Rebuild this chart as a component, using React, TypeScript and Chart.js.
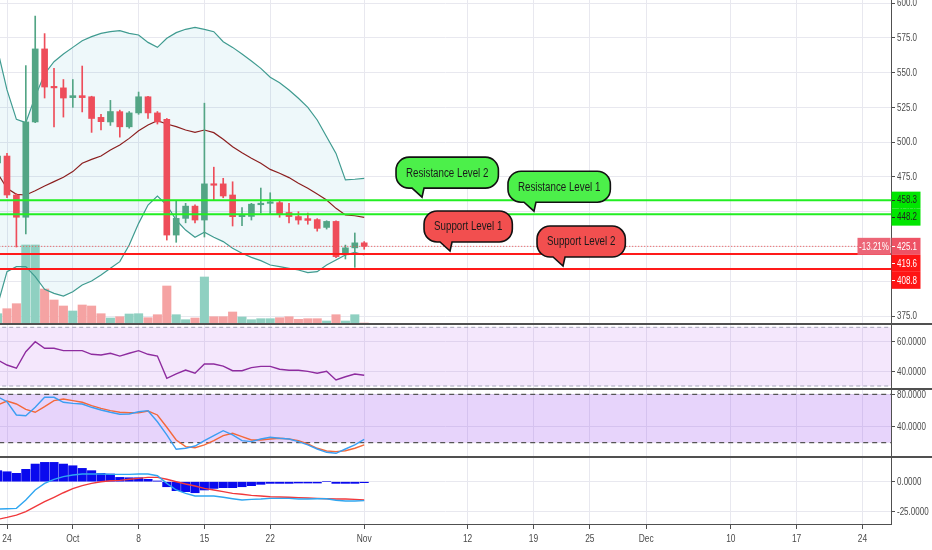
import React, { useEffect, useRef } from 'react';
import { Chart, registerables } from 'chart.js';

Chart.register(...registerables);

// The reference uses a narrow face; we squeeze Liberation Sans horizontally instead.
const FONT = "'Liberation Sans', Arial, sans-serif";
const AXIS_SQUEEZE = 0.8;
const AXIS_TEXT = '#4a4a4a';
const GRID = '#e8e8ef';
const FRAME = '#505050';
const UP = '#53a585';
const DOWN = '#ee4d5a';

Chart.defaults.font.family = FONT;

// x is a day number, 0 = Sep 24. First candle is Sep 23, last is Nov 1.
const firstDay = -1;
const xMin = -0.745;
const xMax = 94.04;
const dateTicks = [0, 7, 14, 21, 28, 38, 49, 56, 62, 68, 77, 84, 91];
const dateLabels = ['24', 'Oct', '8', '15', '22', 'Nov', '12', '19', '25', 'Dec', '10', '17', '24'];

const openPrice = [485, 490, 462, 446, 514.5, 567, 539.6, 539, 532, 533.4, 532.6, 517.8, 514.5, 521.9, 511, 521, 532.6, 521, 516.4, 433.2, 445.2, 454, 444, 470, 470, 462, 446.4, 446.6, 455, 456, 456.5, 449.4, 446.5, 445, 444.3, 438.7, 443, 419, 424, 427.6];
const highPrice = [492, 492, 463, 555, 590.6, 578, 553, 545, 545, 554.7, 533, 520, 530, 523, 522, 536, 533, 522, 517, 458, 456, 455, 528, 482, 474, 471.5, 453, 456, 467, 463.6, 458, 456, 450, 449, 445, 443.5, 443.5, 426, 434.7, 428.5];
const lowPrice = [480, 460, 424.6, 434, 514, 531.7, 511, 518, 525, 521.7, 507, 508.7, 512, 503.6, 510, 520, 517, 513, 429.6, 428, 442, 442, 431.8, 458, 460, 439.7, 440, 444, 449, 448, 446, 442, 441, 441, 436, 437.5, 417, 416, 410, 423];
const closePrice = [490, 462, 446, 514.5, 567, 539.6, 539, 531.7, 533.4, 532, 517, 514.7, 522, 511, 521, 532.6, 521, 514.5, 433.2, 445.2, 454, 444, 470, 469, 461.3, 446.4, 446.6, 455.4, 456, 456.5, 448.5, 446.5, 444, 443.7, 438, 443, 417.7, 424, 427.6, 425.1];
const volume = [10300, 15300, 20300, 79000, 79000, 35000, 24000, 18000, 13000, 19000, 18000, 10300, 6000, 7300, 10000, 10300, 6300, 9300, 38000, 9300, 4300, 6000, 47000, 7300, 7300, 12000, 7000, 4300, 5300, 5300, 6300, 7300, 4700, 5300, 5300, 3000, 9300, 3000, 9300, 1000];

const bbUpper = [566.2, 537.5, 516.4, 514.0, 532.7, 549.0, 557.8, 563.3, 568.1, 572.9, 575.8, 578.2, 579.4, 580.1, 578.2, 577.0, 571.7, 568.1, 574.6, 578.7, 581.1, 582.5, 581.1, 579.4, 572.2, 568.1, 563.3, 558.3, 553.0, 546.6, 542.7, 537.5, 531.5, 525.0, 515.9, 503.9, 491.9, 472.8, 473.3, 474.0];
const bbBasis = [477.6, 466.8, 462.5, 462.0, 465.1, 468.5, 471.6, 474.7, 478.8, 484.8, 487.6, 490.0, 494.3, 497.9, 502.7, 508.2, 512.3, 515.4, 513.0, 511.1, 508.7, 507.0, 508.7, 506.8, 502.0, 496.7, 492.4, 488.4, 484.8, 480.4, 477.6, 474.5, 470.4, 466.8, 462.7, 458.4, 452.4, 447.6, 447.1, 445.9];
const bbLower = [382.9, 406.9, 410.5, 410.5, 403.3, 394.2, 391.3, 389.4, 392.5, 397.3, 400.2, 404.5, 409.3, 414.1, 426.1, 441.6, 454.8, 461.3, 454.8, 444.0, 436.8, 431.6, 435.2, 431.6, 428.5, 423.7, 420.1, 417.2, 414.8, 411.7, 410.5, 409.3, 408.1, 406.2, 406.9, 411.7, 415.3, 418.9, 420.8, 418.9];

const rsi = [47.7, 44.3, 42.1, 53.4, 60.2, 55.7, 55.7, 54.1, 54.1, 54.1, 51.6, 51.1, 52.3, 50.4, 52.3, 54.1, 51.6, 50.4, 35.2, 38.2, 40.9, 38.7, 45.0, 45.0, 43.6, 40.4, 40.4, 42.5, 43.4, 43.4, 41.4, 40.7, 40.7, 40.0, 38.7, 40.0, 34.1, 36.3, 38.2, 37.3];
const stochK = [77.0, 70.8, 54.4, 53.5, 63.9, 76.3, 76.3, 70.1, 68.8, 68.0, 63.9, 60.5, 57.7, 55.2, 55.6, 58.4, 59.7, 46.0, 29.6, 11.8, 13.1, 15.9, 22.5, 28.7, 34.9, 29.6, 22.5, 21.3, 24.6, 26.7, 25.5, 24.6, 21.3, 17.2, 12.2, 8.1, 6.9, 12.2, 17.2, 24.2];
const stochD = [66.7, 71.7, 68.0, 61.4, 57.7, 64.7, 72.1, 74.2, 72.1, 70.1, 65.9, 62.6, 59.7, 57.7, 57.2, 57.2, 59.3, 54.4, 39.1, 23.4, 15.1, 13.8, 17.2, 22.5, 28.7, 31.7, 27.5, 23.4, 23.4, 24.6, 25.5, 24.6, 22.5, 18.4, 13.1, 9.7, 8.9, 10.1, 13.1, 17.2];
const macd = [-22.8, -22.5, -22.2, -15.3, -6.9, -1.4, 2.0, 4.2, 5.6, 6.4, 6.4, 6.4, 6.1, 6.1, 6.1, 6.4, 6.4, 5.0, -1.4, -6.9, -9.7, -11.9, -11.9, -11.9, -13.0, -14.2, -15.3, -14.7, -14.4, -13.9, -13.9, -13.9, -14.4, -14.4, -14.2, -14.2, -15.5, -16.1, -16.1, -15.8];
const signal = [-31.4, -29.7, -27.8, -25.0, -20.8, -16.7, -13.0, -9.2, -5.8, -3.3, -1.4, 0, 0.8, 1.1, 2.0, 2.8, 3.6, 3.6, 2.0, 0, -1.9, -3.6, -5.6, -6.9, -8.3, -9.7, -10.5, -11.4, -11.9, -12.5, -12.8, -13.0, -13.3, -13.6, -13.9, -14.2, -14.4, -14.4, -14.7, -15.3];
const histogram = [9.2, 8.3, 7.0, 10.3, 14.7, 16.1, 16.1, 14.7, 13.3, 11.1, 9.2, 7.0, 6.4, 3.6, 3.3, 3.3, 2.0, 0.6, -4.2, -7.5, -8.3, -9.2, -6.9, -5.6, -5.0, -5.0, -4.2, -3.3, -2.2, -1.4, -1.4, -1.4, -1.1, -1.1, -1.1, 0, -1.4, -1.4, -1.4, -0.8];

const priceTicks = [375, 400, 425, 450, 475, 500, 525, 550, 575, 600];
const rsiTicks = [60, 40];
const stochTicks = [80, 40];
const macdTicks = [0, -25];
const rsiBand = [70, 30];
const stochBand = [80, 20];

const resistanceLevels = [458.3, 448.2];
const supportLevels = [419.6, 408.8];
const lastClose = closePrice[closePrice.length - 1];
const changeLabel = '-13.21%';

const callouts = [
  { text: 'Resistance Level 2', day: 44.15, level: resistanceLevels[0], fill: '#4cf04a' },
  { text: 'Resistance Level 1', day: 56.06, level: resistanceLevels[1], fill: '#4cf04a' },
  { text: 'Support Level 1', day: 47.13, level: supportLevels[0], fill: '#f24f4f' },
  { text: 'Support Level 2', day: 59.15, level: supportLevels[1], fill: '#f24f4f' },
];

const days = openPrice.map((_, i) => firstDay + i);
const xy = (values: number[]) => values.map((y, i) => ({ x: days[i], y }));
const span = (y: number) => [{ x: xMin - 2, y }, { x: xMax + 2, y }];
const candleColors = closePrice.map((c, i) => (c >= openPrice[i] ? UP : DOWN));
const volumeColors = closePrice.map((c, i) => (c >= openPrice[i] ? '#8fd0c1' : '#f5a3a3'));

function squeezedText(ctx: CanvasRenderingContext2D, text: string, x: number, y: number, align: CanvasTextAlign, k: number) {
  ctx.save();
  ctx.translate(x, y);
  ctx.scale(k, 1);
  ctx.textAlign = align;
  ctx.fillText(text, 0, 0);
  ctx.restore();
}

function xAxis(labels: boolean): any {
  return {
    type: 'linear',
    position: 'bottom',
    min: xMin,
    max: xMax,
    bounds: 'data',
    offset: false,
    afterBuildTicks: (s: any) => {
      s.ticks = dateTicks.map((value) => ({ value }));
    },
    afterFit: (s: any) => {
      s.height = labels ? 26 : 1;
    },
    grid: { color: GRID, offset: false, drawTicks: labels, tickLength: 5, tickColor: FRAME },
    border: { display: labels, color: FRAME, width: 1 },
    ticks: { display: false },
  };
}

function rightAxis(min: number, max: number, ticks: number[]): any {
  return {
    position: 'right',
    min,
    max,
    bounds: 'data',
    afterBuildTicks: (s: any) => {
      s.ticks = ticks.map((value) => ({ value }));
    },
    afterFit: (s: any) => {
      s.width = 41;
    },
    grid: { color: GRID, tickColor: FRAME, tickLength: 4 },
    border: { color: FRAME, width: 1 },
    ticks: { display: false },
  };
}

function baseOptions(scales: any) {
  return {
    responsive: false,
    animation: false,
    events: [],
    layout: { padding: 0 },
    plugins: {
      legend: { display: false },
      tooltip: { enabled: false },
      filler: { drawTime: 'beforeDatasetsDraw' },
    },
    scales,
  };
}

const line = (data: any, color: string, width: number, order: number, extra: any = {}) => ({
  type: 'line',
  data,
  borderColor: color,
  borderWidth: width,
  pointRadius: 0,
  fill: false,
  order,
  ...extra,
});

// full-width divider under a pane
const separator = {
  id: 'separator',
  afterDraw(chart: any) {
    const { ctx, chartArea } = chart;
    ctx.save();
    ctx.fillStyle = FRAME;
    ctx.fillRect(0, chartArea.bottom - 1, chart.width, 2);
    ctx.restore();
  },
};

// tick labels in the narrow style of the reference
function axisText(digits: number, dates: boolean) {
  return {
    id: 'axisText',
    afterDraw(chart: any) {
      const { ctx, scales } = chart;
      ctx.save();
      ctx.fillStyle = AXIS_TEXT;
      ctx.font = `10px ${FONT}`;
      ctx.textBaseline = 'middle';
      scales.y.ticks.forEach((t: any) => {
        squeezedText(ctx, t.value.toFixed(digits), scales.y.left + 6, scales.y.getPixelForValue(t.value) + 0.5, 'left', AXIS_SQUEEZE);
      });
      if (dates) {
        ctx.font = `10.5px ${FONT}`;
        scales.x.ticks.forEach((t: any) => {
          const label = dateLabels[dateTicks.indexOf(t.value)] ?? '';
          squeezedText(ctx, label, scales.x.getPixelForValue(t.value), scales.x.top + 15, 'center', AXIS_SQUEEZE);
        });
      }
      ctx.restore();
    },
  };
}

const priceTags = [
  { value: resistanceLevels[0], bg: '#00e600', fg: '#222' },
  { value: resistanceLevels[1], bg: '#00e600', fg: '#222' },
  { value: lastClose, bg: '#ee5264', fg: '#fff' },
  { value: supportLevels[0], bg: '#ff1414', fg: '#fff' },
  { value: supportLevels[1], bg: '#ff1414', fg: '#fff' },
];

const priceTagPlugin = {
  id: 'priceTags',
  afterDraw(chart: any) {
    const { ctx, chartArea, scales } = chart;
    const x0 = chartArea.right + 0.5;
    let prev = -Infinity;
    const placed = priceTags
      .map((t) => ({ ...t, py: scales.y.getPixelForValue(t.value) }))
      .sort((a, b) => a.py - b.py)
      .map((t) => {
        const py = Math.max(t.py, prev + 17);
        prev = py;
        return { ...t, py };
      });
    ctx.save();
    ctx.font = `10px ${FONT}`;
    ctx.textBaseline = 'middle';
    placed.forEach((t) => {
      ctx.fillStyle = t.bg;
      ctx.fillRect(x0, t.py - 8.5, 29, 17);
      ctx.fillStyle = t.fg;
      ctx.fillRect(x0 + 0.5, Math.round(t.py), 3, 1);
      squeezedText(ctx, t.value.toFixed(1), x0 + 5.5, t.py + 0.5, 'left', AXIS_SQUEEZE);
      if (t.value === lastClose) {
        ctx.fillStyle = '#ec6677';
        ctx.fillRect(x0 - 34, t.py - 8.5, 33, 17);
        ctx.fillStyle = '#fff';
        squeezedText(ctx, changeLabel, x0 - 17.5, t.py + 0.5, 'center', AXIS_SQUEEZE);
      }
    });
    ctx.restore();
  },
};

const calloutPlugin = {
  id: 'callouts',
  afterDraw(chart: any) {
    const { ctx, scales } = chart;
    const k = 0.78;
    ctx.save();
    ctx.font = `12.5px ${FONT}`;
    ctx.textBaseline = 'middle';
    callouts.forEach((c) => {
      const tipX = scales.x.getPixelForValue(c.day);
      const tipY = scales.y.getPixelForValue(c.level) - 3;
      const w = ctx.measureText(c.text).width * k + 20;
      const h = 31;
      const r = 13;
      const left = tipX - 26;
      const bottom = tipY - 9;
      const top = bottom - h;
      const right = left + w;
      ctx.beginPath();
      ctx.moveTo(left + r, top);
      ctx.lineTo(right - r, top);
      ctx.arcTo(right, top, right, top + r, r);
      ctx.lineTo(right, bottom - r);
      ctx.arcTo(right, bottom, right - r, bottom, r);
      ctx.lineTo(left + 28, bottom);
      ctx.lineTo(tipX, tipY);
      ctx.lineTo(left + 16, bottom);
      ctx.lineTo(left + r, bottom);
      ctx.arcTo(left, bottom, left, bottom - r, r);
      ctx.lineTo(left, top + r);
      ctx.arcTo(left, top, left + r, top, r);
      ctx.closePath();
      ctx.fillStyle = c.fill;
      ctx.fill();
      ctx.lineWidth = 1.6;
      ctx.strokeStyle = '#111';
      ctx.stroke();
      ctx.fillStyle = '#1a1a1a';
      squeezedText(ctx, c.text, left + w / 2, top + h / 2 + 0.5, 'center', k);
    });
    ctx.restore();
  },
};

function mainConfig(): any {
  return {
    type: 'bar',
    data: {
      datasets: [
        { type: 'bar', yAxisID: 'yv', data: xy(volume), backgroundColor: volumeColors, barThickness: 8.4, grouped: false, order: 7 },
        line(xy(bbUpper), '#3f9b90', 1.2, 5, { fill: '+1', backgroundColor: 'rgba(40, 160, 185, 0.08)' }),
        line(xy(bbLower), '#3f9b90', 1.2, 5),
        line(xy(bbBasis), '#8c1f1f', 1.2, 5),
        {
          type: 'bar',
          data: days.map((x, i) => ({ x, y: [lowPrice[i], highPrice[i]] })),
          backgroundColor: candleColors,
          barThickness: 1,
          grouped: false,
          order: 4,
        },
        {
          type: 'bar',
          data: days.map((x, i) => ({ x, y: [openPrice[i], closePrice[i]] })),
          backgroundColor: candleColors,
          barThickness: 6,
          minBarLength: 1.5,
          grouped: false,
          order: 3,
        },
        line(span(lastClose), '#ef5350', 1, 2, { borderDash: [1, 2] }),
        ...resistanceLevels.map((v) => line(span(v), '#22ee22', 2, 1)),
        ...supportLevels.map((v) => line(span(v), '#ff1a1a', 2, 1)),
      ],
    },
    options: baseOptions({
      x: xAxis(false),
      y: rightAxis(369.27, 602.16, priceTicks),
      yv: { display: false, min: 0, max: Math.max(...volume) * 4.1 },
    }),
    plugins: [separator, axisText(1, false), priceTagPlugin, calloutPlugin],
  };
}

function rsiConfig(): any {
  return {
    type: 'line',
    data: {
      datasets: [
        line(span(rsiBand[0]), '#a4a4b8', 1, 2, { borderDash: [4, 3] }),
        line(span(rsiBand[1]), '#a4a4b8', 1, 2, { borderDash: [4, 3], fill: '-1', backgroundColor: 'rgba(170, 70, 235, 0.13)' }),
        line(xy(rsi), '#8e2c9f', 1.4, 1),
      ],
    },
    options: baseOptions({ x: xAxis(false), y: rightAxis(27.96, 71.57, rsiTicks) }),
    plugins: [separator, axisText(4, false)],
  };
}

function stochConfig(): any {
  return {
    type: 'line',
    data: {
      datasets: [
        line(span(stochBand[0]), '#555', 1.2, 3, { borderDash: [5, 4] }),
        line(span(stochBand[1]), '#555', 1.2, 3, { borderDash: [5, 4], fill: '-1', backgroundColor: 'rgba(155, 75, 240, 0.24)' }),
        line(xy(stochD), '#f4683a', 1.4, 1),
        line(xy(stochK), '#3c9ef2', 1.4, 0),
      ],
    },
    options: baseOptions({ x: xAxis(false), y: rightAxis(2.28, 85.33, stochTicks) }),
    plugins: [separator, axisText(4, false)],
  };
}

function macdConfig(): any {
  return {
    type: 'bar',
    data: {
      datasets: [
        { type: 'bar', data: xy(histogram), backgroundColor: '#0a0aee', barThickness: 8.4, grouped: false, order: 3 },
        line(xy(signal), '#f0393c', 1.4, 1),
        line(xy(macd), '#2fa6f0', 1.4, 0),
      ],
    },
    options: baseOptions({ x: xAxis(true), y: rightAxis(-35.25, 19.75, macdTicks) }),
    plugins: [axisText(4, true)],
  };
}

const Pane: React.FC<{ top: number; height: number; build: () => any }> = ({ top, height, build }) => {
  const canvasRef = useRef<HTMLCanvasElement>(null);

  useEffect(() => {
    if (!canvasRef.current) return;
    const chart = new Chart(canvasRef.current, build());
    return () => chart.destroy();
    // eslint-disable-next-line react-hooks/exhaustive-deps
  }, []);

  return (
    <canvas
      ref={canvasRef}
      width={932}
      height={height}
      style={{ position: 'absolute', left: 0, top, width: 932, height, display: 'block' }}
    />
  );
};

export default function App() {
  return (
    <div style={{ position: 'fixed', left: 0, top: 0, width: 932, height: 550, background: '#fff', overflow: 'hidden' }}>
      <Pane top={0} height={325} build={mainConfig} />
      <Pane top={325} height={65} build={rsiConfig} />
      <Pane top={390} height={68} build={stochConfig} />
      <Pane top={458} height={92} build={macdConfig} />
    </div>
  );
}
